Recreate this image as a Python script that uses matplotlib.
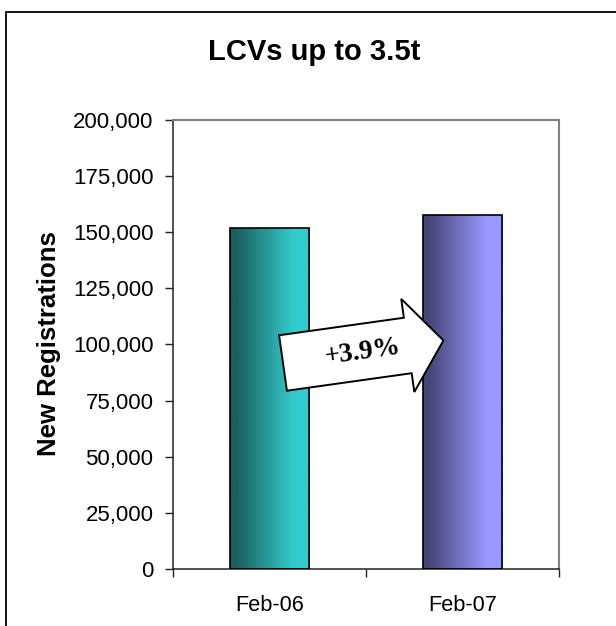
"""LCV new registrations, Feb-06 vs Feb-07."""

import matplotlib
matplotlib.use("Agg")
import matplotlib.pyplot as plt
import numpy as np
from matplotlib.colors import to_rgb
from matplotlib.patches import Polygon, Rectangle
from matplotlib.transforms import Affine2D
from matplotlib.ticker import FuncFormatter, MultipleLocator

categories = ["Feb-06", "Feb-07"]
registrations = [151800, 157700]
change_label = "+3.9%"
title = "LCVs up to 3.5t"
ylabel = "New Registrations"

W, H = 616, 626
plt.rcParams["font.family"] = ["Liberation Sans", "DejaVu Sans"]

fig = plt.figure(figsize=(W / 100, H / 100), dpi=100)
fig.patch.set_facecolor("white")

# outer chart-area frame (right and bottom edges fall outside the picture)
fig.patches.append(Rectangle((6 / W, -0.05), 1.2, 1 - 12 / H + 0.05,
                             transform=fig.transFigure, fill=False,
                             edgecolor="black", linewidth=1.3))

ax = fig.add_axes([173 / W, 57 / H, 386 / W, 449 / H])

gradients = [("#1a605d", "#33cccc"), ("#46467a", "#9999ff")]
x = np.arange(len(categories))
bars = ax.bar(x, registrations, width=0.41, facecolor="none",
              edgecolor="black", linewidth=1.2, zorder=3)
for bar, (dark, light) in zip(bars, gradients):
    t = np.linspace(0, 1, 256)
    k = np.clip((t - 0.08) / 0.72, 0, 1)
    c0, c1 = np.array(to_rgb(dark)), np.array(to_rgb(light))
    img = c0[None, :] + (c1 - c0)[None, :] * k[:, None]
    x0, y0 = bar.get_x(), bar.get_y()
    im = ax.imshow(img[None, :, :], aspect="auto", zorder=2,
                   extent=(x0, x0 + bar.get_width(), y0, y0 + bar.get_height()))
    im.set_clip_path(bar)
ax.set_xlim(-0.5, 1.5)
ax.set_ylim(0, 200000)

for side in ["top", "right"]:
    ax.spines[side].set_color("#808080")
    ax.spines[side].set_linewidth(1.5)
for side in ["left", "bottom"]:
    ax.spines[side].set_color("#222222")
    ax.spines[side].set_linewidth(1.1)

ax.yaxis.set_major_locator(MultipleLocator(25000))
ax.yaxis.set_major_formatter(FuncFormatter(lambda v, _: f"{int(v):,}"))
ax.tick_params(axis="y", length=6, width=1, pad=8, labelsize=16, colors="#222222",
               labelcolor="black")

ax.set_xticks([-0.5, 0.5, 1.5])
ax.set_xticklabels([])
ax.set_xticks(x, minor=True)
ax.set_xticklabels(categories, minor=True)
ax.tick_params(axis="x", which="major", length=6, width=1, colors="#222222")
ax.tick_params(axis="x", which="minor", length=0, pad=19, labelsize=15.7)

ax.set_ylabel(ylabel, fontsize=18.5, fontweight="bold")
ax.yaxis.set_label_coords(-0.29, 0.501)

fig.text(314 / W, 1 - 52 / H, title, ha="center", va="center",
         fontsize=21, fontweight="bold")

# tilted block arrow with the growth label
shaft, head_w, shaft_len, total_len = 28, 47, 126, 162
shape = [(0, -shaft), (shaft_len, -shaft), (shaft_len, -head_w), (total_len, 0),
         (shaft_len, head_w), (shaft_len, shaft), (0, shaft)]
angle = 8
tail = (283, H - 363)
to_fig = Affine2D().rotate_deg(angle).translate(*tail).scale(1 / W, 1 / H) + fig.transFigure
fig.patches.append(Polygon(shape, closed=True, transform=to_fig, facecolor="white",
                           edgecolor="black", linewidth=1.4, zorder=5))
cx, cy = to_fig.transform((80, 0))
cx, cy = fig.transFigure.inverted().transform((cx, cy))
fig.text(cx, cy, change_label, ha="center", va="center", rotation=angle,
         family=["Liberation Serif", "DejaVu Serif"], fontsize=19.5,
         fontweight="bold", zorder=6)

fig.savefig("out.png", dpi=100)
